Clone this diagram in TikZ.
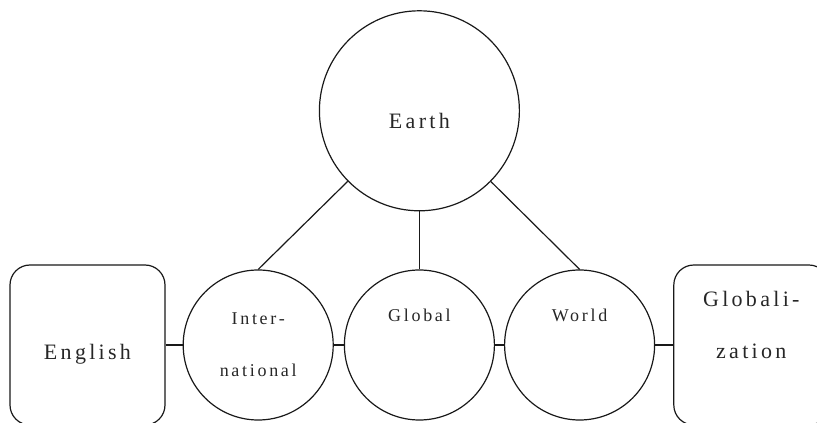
\documentclass[tikz,border=0pt]{standalone}
\usepackage{fontspec}
\setmainfont{Liberation Serif}
\usetikzlibrary{positioning}

\begin{document}
\begin{tikzpicture}[
    x=1pt, y=1pt,
    node distance=10pt,
    every node/.style={draw=black!90, line width=1.2pt, align=center, text=black!85},
    bigword/.style={font=\fontsize{22}{52}\selectfont\addfontfeatures{LetterSpace=15}},
    smallword/.style={font=\fontsize{18}{52}\selectfont\addfontfeatures{LetterSpace=15}},
    wordbox/.style={bigword, rounded corners=20pt, minimum width=155pt, minimum height=160pt},
    wordcircle/.style={smallword, circle, minimum size=150pt, inner sep=0pt},
    every edge/.style={draw=black!90, line width=1.2pt}
  ]
  \useasboundingbox (0,0) rectangle (817,423);
  \clip (0,0) rectangle (817,423);

  \node[wordbox, text height=30pt, text depth=0pt] (english) at (87.5,78) {English};
  \node[wordcircle, right=17pt of english] (inter) {Inter-\\national};
  \node[wordcircle, right=of inter, text height=0pt, text depth=46pt] (global) {Global};
  \node[wordcircle, right=9pt of global, text height=0pt, text depth=46pt] (world) {World};
  \node[wordbox, right=18pt of world, text depth=40pt] (globalization) {Globali-\\zation};
  \node[bigword, circle, minimum size=200pt, inner sep=0pt, text height=36pt, text depth=0pt,
        above=58pt of global] (earth) {Earth};

  \path (earth) edge (inter.north);
  \path (earth) edge (global.north);
  \path (earth) edge (world.north);

  \path (english) edge (inter);
  \path (inter) edge (global);
  \path (global) edge (world);
  \path (world) edge (globalization);
\end{tikzpicture}
\end{document}
